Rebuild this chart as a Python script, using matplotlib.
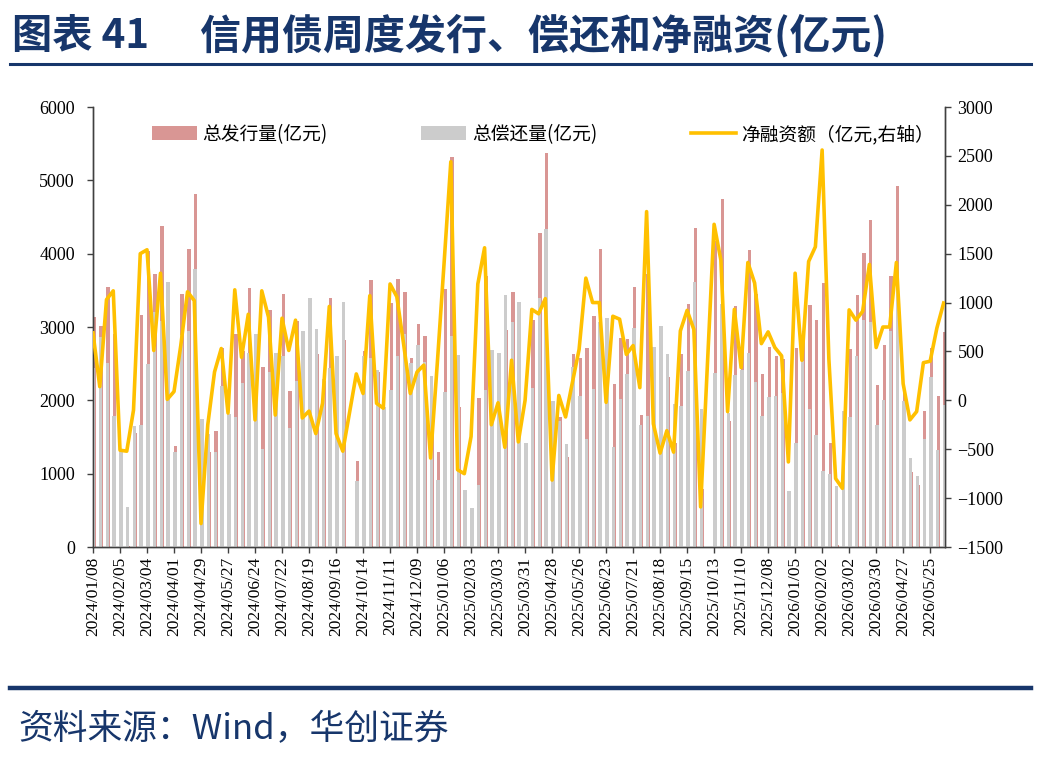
import matplotlib
matplotlib.use("Agg")
import matplotlib.pyplot as plt
import numpy as np
import pandas as pd
from matplotlib.patches import Patch
from matplotlib.lines import Line2D

# ---------------- data (亿元) ----------------
start_date = "2024-01-08"
n_weeks = 127
issuance = [3130, 3010, 3540, 2900, 800, 20, 1550, 3170, 4030, 3720,
            4380, 3620, 1380, 3450, 4060, 4810, 480, 1290, 1580, 2720,
            1680, 2900, 2670, 3530, 2700, 2450, 3230, 2500, 3450, 2130,
            3080, 2760, 3290, 2630, 2260, 3400, 2260, 2820, None, 1170,
            2670, 3640, 2390, 1840, 3330, 3660, 3480, 2580, 3040, 2880,
            1740, 1300, 3520, 5320, 1910, 30, 160, 2030, 3700, 2430,
            2620, 2960, 3480, 2920, 1420, 3100, 4280, 5370, 1180, 1770,
            1230, 2630, 2580, 2720, 3150, 4070, 3100, 2220, 2850, 2830,
            3550, 1800, 3720, 2490, 2470, 2320, 1420, 2630, 3320, 4345,
            790, None, 4170, 4745, 1715, 3280, 2745, 4050, 3450, 2360,
            2730, 2600, 2560, 140, 2720, 2940, 3300, 3100, 3600, 1420,
            30, 960, 2700, 3430, 4010, 4460, 2210, 2760, 3700, 4920,
            2160, 1020, 850, 1855, 2720, 2060, 2930]
repayment = [2440, 2870, 2510, 1780, 1310, 540, 1650, 1670, 2490, 3210,
             3080, 3610, 1290, 2890, 2950, 3790, 1740, 1540, 1290, 2190,
             1810, 1770, 2230, 2650, 2900, 1330, 2380, 2650, 2610, 1620,
             2260, 2940, 3400, 2970, 2290, 2440, 2600, 3340, None, 900,
             2600, 2580, 2410, 1910, 2140, 2600, 2900, 2510, 2750, 2520,
             2330, 910, 2120, 2880, 2620, 780, 530, 845, 2140, 2680,
             2645, 3440, 3070, 3345, 1420, 2170, 3395, 4330, 1990, 1720,
             1400, 2450, 2060, 1470, 2150, 3070, 3120, 1360, 2020, 2360,
             2990, 1670, 1790, 2730, 3010, 2630, 1950, 1920, 2400, 3620,
             1880, None, 2370, 3310, 1830, 2350, 2410, 2640, 2250, 1780,
             2040, 2060, 2105, 770, 1420, 2530, 1880, 1530, 1040, 1000,
             830, 1860, 1775, 2610, 3100, 3070, 1670, 2010, 2950, 3510,
             1990, 1220, 965, 1470, 2320, 1320, 1935]
net_financing = [690, 140, 1030, 1120, -510, -520, -100, 1500, 1540, 510,
                 1300, 10, 90, 560, 1110, 1020, -1260, -250, 290, 530,
                 -130, 1130, 440, 880, -200, 1120, 850, -150, 840, 510,
                 820, -180, -110, -340, -30, 960, -340, -520, None, 270,
                 70, 1070, -30, -80, 1190, 1060, 580, 70, 290, 360,
                 -590, 380, 1400, 2440, -710, -750, -370, 1190, 1560, -250,
                 -25, -480, 410, -425, 0, 930, 885, 1040, -815, 50,
                 -170, 180, 520, 1250, 1000, 1000, -20, 860, 830, 470,
                 560, 130, 1930, -240, -540, -310, -530, 710, 920, 725,
                 -1090, None, 1800, 1435, -115, 930, 335, 1410, 1200, 580,
                 700, 540, 455, -630, 1300, 410, 1420, 1570, 2560, 420,
                 -800, -900, 925, 820, 910, 1390, 540, 750, 750, 1410,
                 170, -200, -115, 385, 400, 740, 995]

dates = pd.date_range(start_date, periods=n_weeks, freq="7D")
date_labels = [d.strftime("%Y/%m/%d") for d in dates]

iss = np.array([np.nan if v is None else v for v in issuance], dtype=float)
rep = np.array([np.nan if v is None else v for v in repayment], dtype=float)
net = np.array([np.nan if v is None else v for v in net_financing], dtype=float)
x = np.arange(n_weeks)

# ---------------- style ----------------
PINK = "#D99694"
GREY = "#CCCCCC"
GOLD = "#FFC000"
NAVY = "#17366B"
CJK = ["Noto Sans CJK SC", "DejaVu Sans"]
SERIF = "Liberation Serif"

fig = plt.figure(figsize=(10.41, 7.59), dpi=100)
fig.patch.set_facecolor("white")

ax = fig.add_axes([93 / 1041, 1 - 547 / 759, (945 - 93) / 1041, (547 - 107) / 759])
ax2 = ax.twinx()

mask = ~np.isnan(net)

ax.bar(x + 0.2, iss, width=0.5, color=PINK, zorder=2, linewidth=0)
ax.bar(x + 0.12, rep, width=0.5, color=GREY, zorder=3, linewidth=0)
ax2.plot(x[mask], net[mask], color=GOLD, lw=2.6, zorder=5, solid_joinstyle="round")

ax.set_xlim(0, 126.2)
ax.set_ylim(0, 6000)
ax2.set_ylim(-1500, 3000)
ax.set_yticks(np.arange(0, 6001, 1000))
ax2.set_yticks(np.arange(-1500, 3001, 500))

ax.set_xticks(x[::4])
ax.set_xticklabels(date_labels[::4], rotation=90, fontsize=12.5, family=SERIF)
for lab in ax.get_yticklabels() + ax2.get_yticklabels():
    lab.set_family(SERIF)
    lab.set_fontsize(13)

for a in (ax, ax2):
    a.spines["top"].set_visible(False)
    for s in ("left", "right", "bottom"):
        a.spines[s].set_color("#404040")
        a.spines[s].set_linewidth(1.0)
    a.tick_params(direction="out", length=4, width=1, color="#404040", labelcolor="black")
ax.tick_params(axis="x", pad=3)
ax.tick_params(axis="y", pad=9)
ax2.tick_params(axis="y", pad=5)

handles = [Patch(facecolor=PINK, edgecolor="none"),
           Patch(facecolor=GREY, edgecolor="none"),
           Line2D([0], [0], color=GOLD, lw=2.6)]
labels = ["总发行量(亿元)", "总偿还量(亿元)", "净融资额（亿元,右轴）"]
leg = ax2.legend(handles, labels, ncol=3, loc="upper center",
                 bbox_to_anchor=(0.528, 1.0), frameon=False,
                 prop={"family": CJK, "size": 13.5},
                 handlelength=2.4, handleheight=0.75, columnspacing=5.0,
                 handletextpad=0.3)

# title and decorations
fig.text(12 / 1041, 1 - 36 / 759, "图表 41",
         family=CJK, fontsize=29, fontweight="bold", color=NAVY,
         ha="left", va="center")
fig.text(200 / 1041, 1 - 36 / 759, "信用债周度发行、偿还和净融资(亿元)",
         family=CJK, fontsize=29.5, fontweight="bold", color=NAVY,
         ha="left", va="center")
fig.add_artist(Line2D([10 / 1041, 1031 / 1041], [1 - 64 / 759, 1 - 64 / 759],
                      color=NAVY, lw=2.2))
fig.add_artist(Line2D([10 / 1041, 1031 / 1041], [1 - 688 / 759, 1 - 688 / 759],
                      color=NAVY, lw=3.2))
fig.text(18 / 1041, 1 - 730 / 759, "资料来源：Wind，华创证券",
         family=CJK, fontsize=25, color=NAVY, ha="left", va="center")

fig.savefig("out.png", dpi=100, facecolor="white")
